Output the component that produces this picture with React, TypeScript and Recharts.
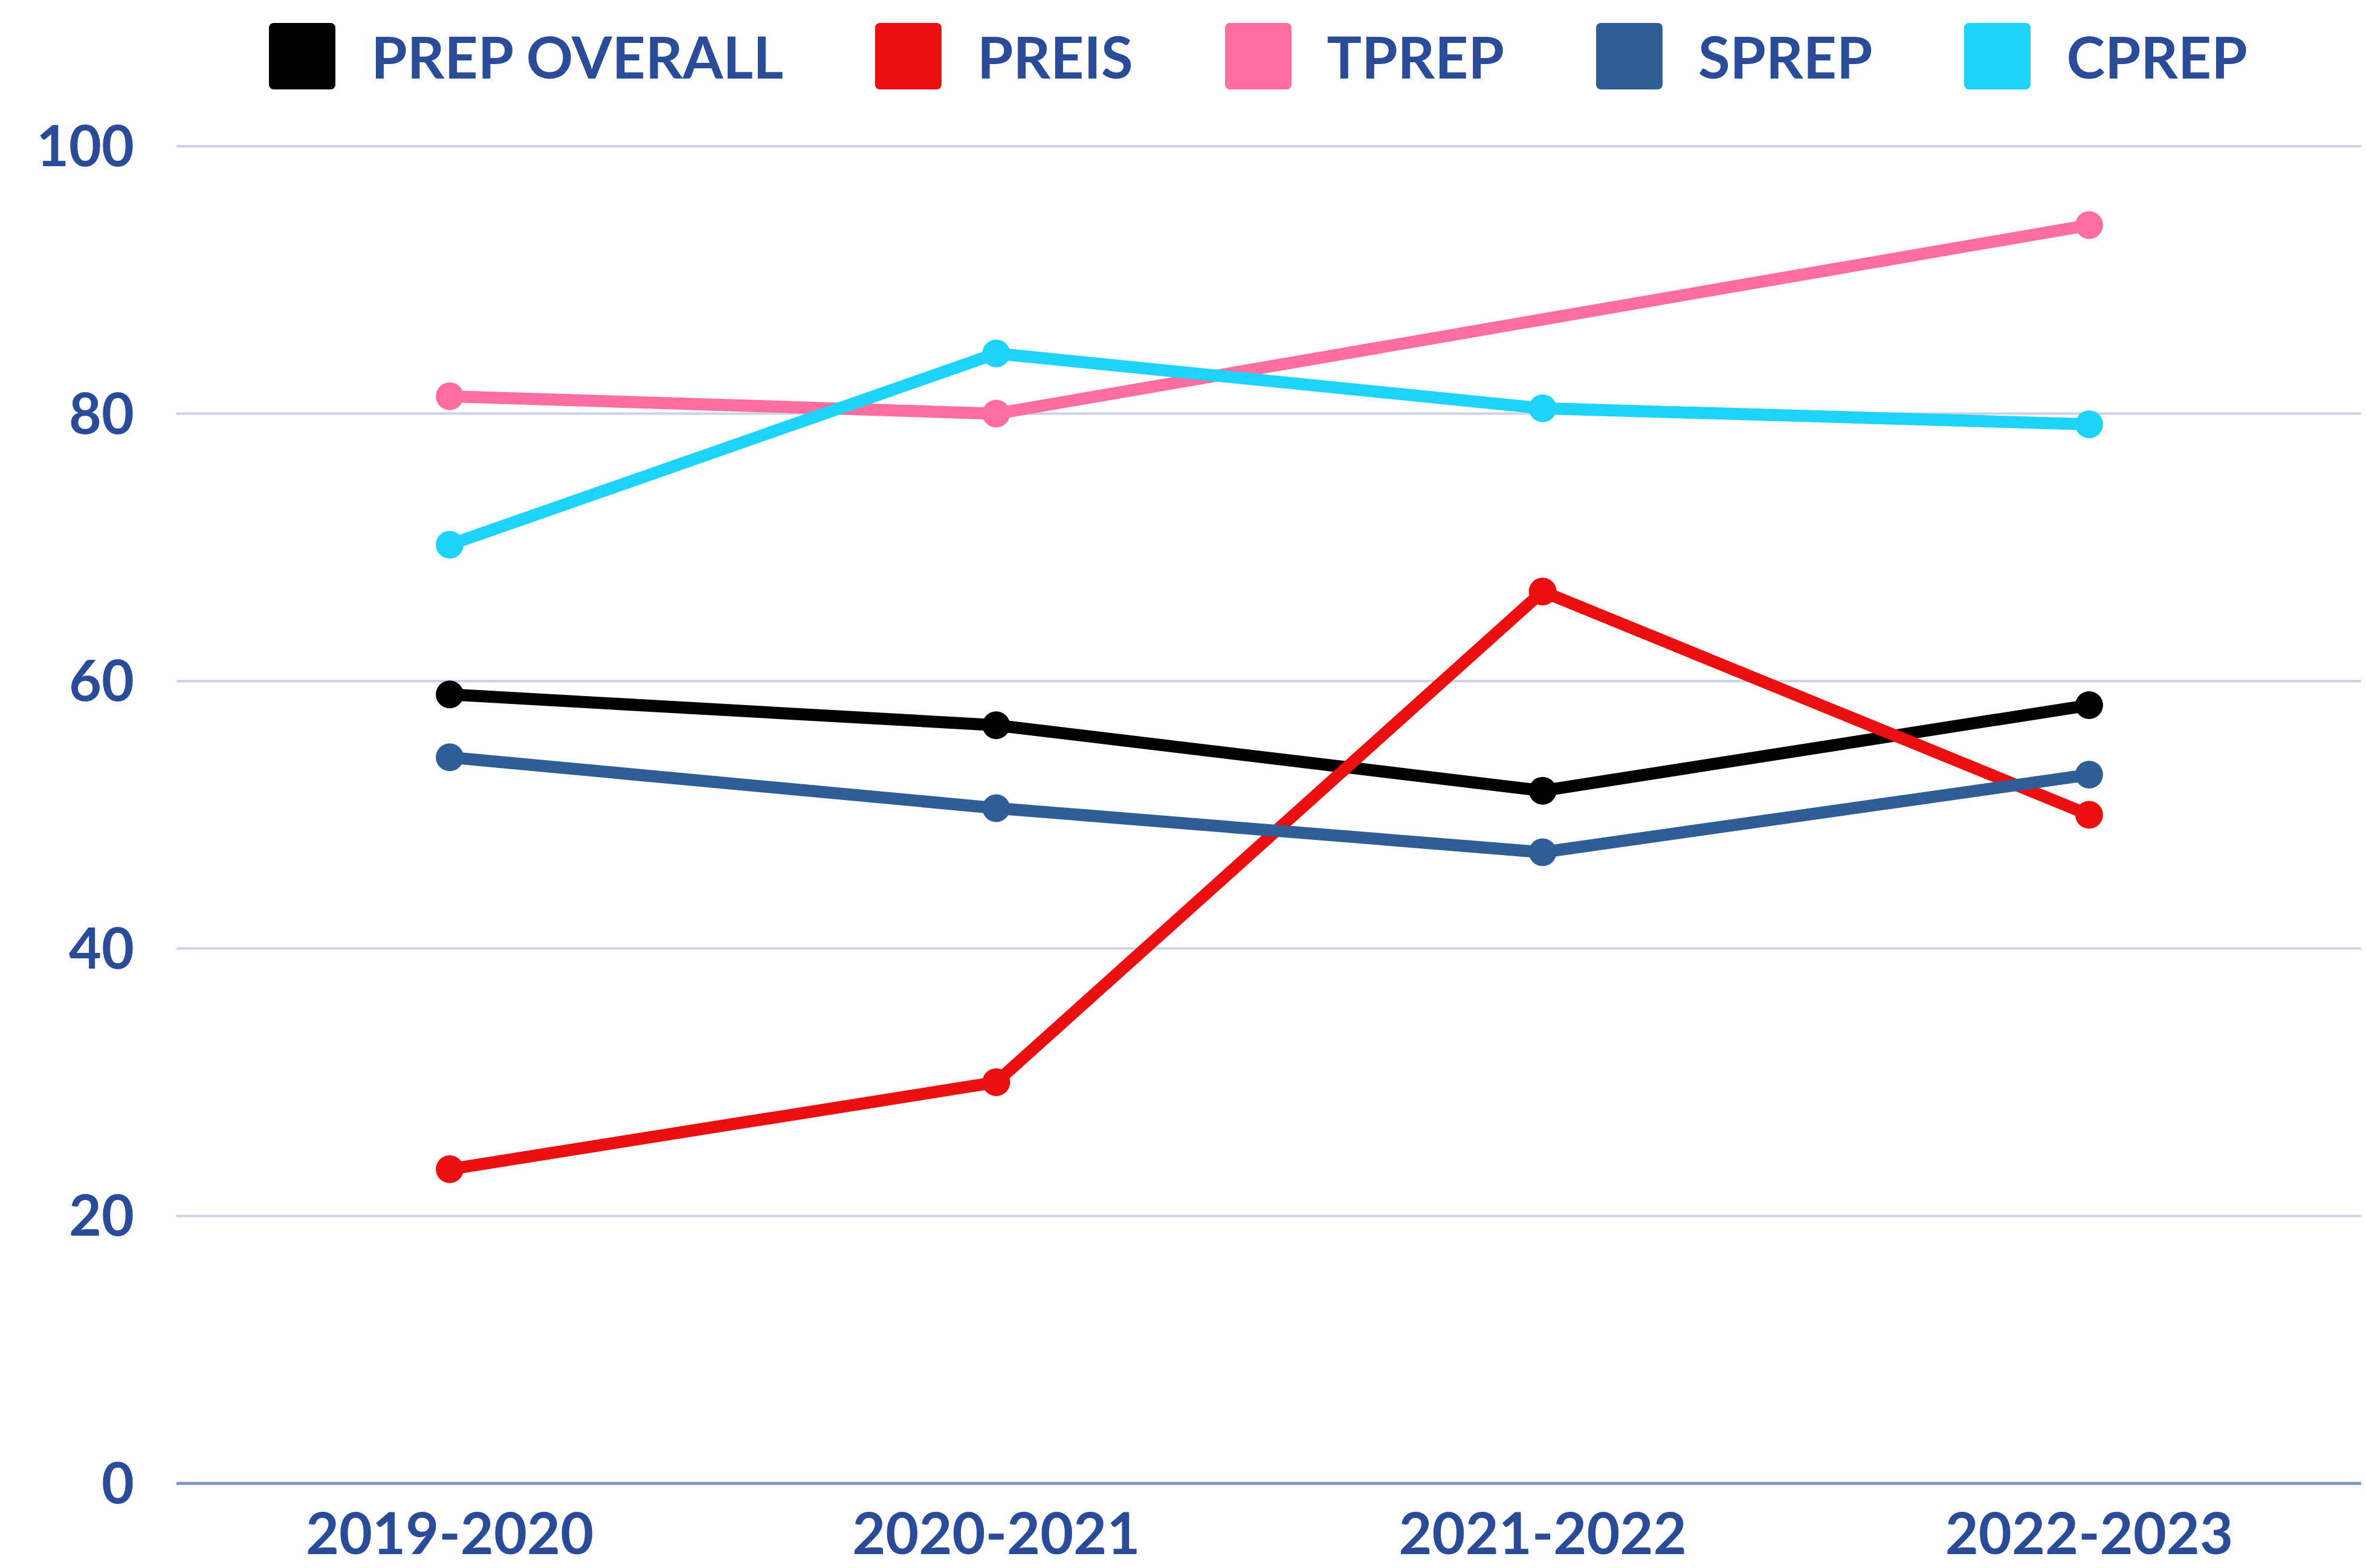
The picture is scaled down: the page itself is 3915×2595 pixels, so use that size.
import React from 'react'
import {
  LineChart, Line, XAxis, YAxis, CartesianGrid, Legend,
} from 'recharts'

const years = ['2019-2020', '2020-2021', '2021-2022', '2022-2023']
const prepOverall = [59.0, 56.7, 51.8, 58.2]
const preis = [23.5, 30.0, 66.7, 50.0]
const tprep: (number | null)[] = [81.3, 80.0, null, 94.1]
const sprep = [54.3, 50.5, 47.2, 53.0]
const cprep = [70.2, 84.5, 80.4, 79.2]
const yTicks = [0, 20, 40, 60, 80, 100]

const SERIES = [
  { key: 'prepOverall', name: 'PREP OVERALL', color: '#000000', values: prepOverall },
  { key: 'preis', name: 'PREIS', color: '#EC0F0F', values: preis },
  { key: 'tprep', name: 'TPREP', color: '#FF6E9E', values: tprep },
  { key: 'sprep', name: 'SPREP', color: '#2F5E97', values: sprep },
  { key: 'cprep', name: 'CPREP', color: '#1ED3F9', values: cprep },
]

const data = years.map((year, i) => {
  const row: Record<string, string | number | null> = { year }
  SERIES.forEach((s) => { row[s.key] = s.values[i] })
  return row
})

const TEXT = '#2A4B97'
const FONT = 'Lato, sans-serif'

function LegendRow() {
  return (
    <div style={{ height: 140, paddingTop: 30, boxSizing: 'border-box', display: 'flex', justifyContent: 'center' }}>
      {SERIES.map((s, i) => (
        <div key={s.key} style={{ display: 'flex', alignItems: 'center', marginLeft: i === 0 ? 0 : 152 }}>
          <div style={{ width: 110, height: 110, background: s.color, borderRadius: 8 }} />
          <span style={{ marginLeft: 59, fontFamily: FONT, fontWeight: 700, fontSize: 96, color: TEXT, lineHeight: 1 }}>
            {s.name}
          </span>
        </div>
      ))}
    </div>
  )
}

export default function App() {
  return (
    <div style={{ width: 3907, height: 2587, background: '#fff' }}>
      <LineChart width={3907} height={2587} data={data} margin={{ top: 94, right: 6, left: 0, bottom: 0 }}>
        <CartesianGrid vertical={false} stroke="#CAD2E5" strokeWidth={4} />
        <XAxis
          dataKey="year"
          scale="band"
          axisLine={{ stroke: '#7C93C4', strokeWidth: 5 }}
          tickLine={false}
          tickSize={0}
          tickMargin={50}
          height={140}
          tick={{ fill: TEXT, fontSize: 95, fontWeight: 700, fontFamily: FONT }}
        />
        <YAxis
          domain={[0, 100]}
          ticks={yTicks}
          axisLine={false}
          tickLine={false}
          tickSize={0}
          tickMargin={70}
          width={284}
          tick={{ fill: TEXT, fontSize: 93, fontWeight: 700, fontFamily: FONT }}
        />
        <Legend
          verticalAlign="top"
          content={() => <LegendRow />}
          wrapperStyle={{ top: 0, left: 284, width: 3580 }}
        />
        {SERIES.map((s) => (
          <Line
            key={s.key}
            type="linear"
            dataKey={s.key}
            name={s.name}
            stroke={s.color}
            strokeWidth={20}
            connectNulls
            dot={{ r: 23, fill: s.color, stroke: 'none', strokeWidth: 0 }}
            activeDot={false}
            isAnimationActive={false}
          />
        ))}
      </LineChart>
    </div>
  )
}
